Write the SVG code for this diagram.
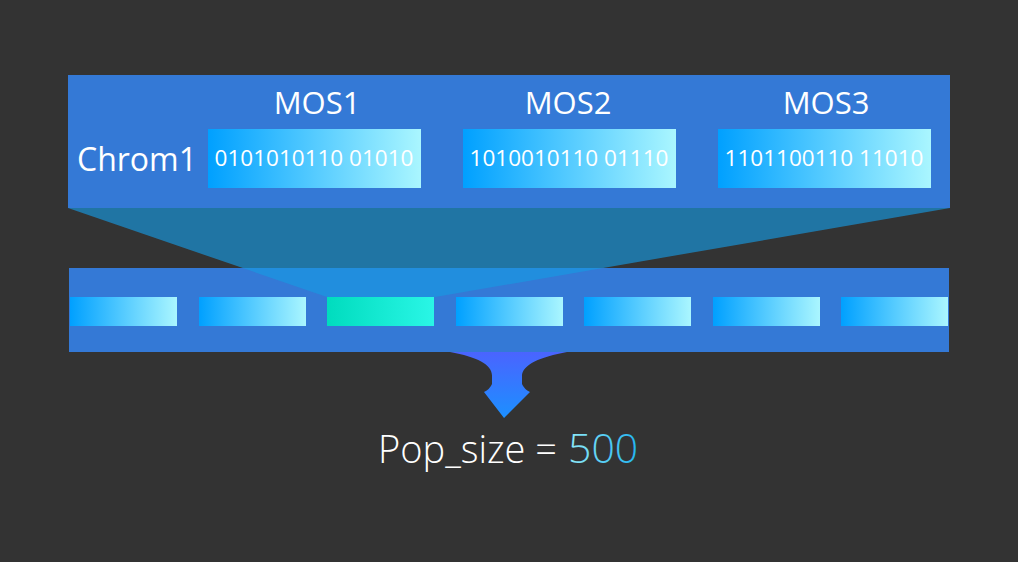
<svg xmlns="http://www.w3.org/2000/svg" width="1018" height="562" viewBox="0 0 1018 562">
<style>
.panel{fill:#3479d6}
.lbl{font-family:"Open Sans","Noto Sans","Liberation Sans",sans-serif;fill:#ffffff}
.bits{font-family:"Open Sans","Noto Sans","Liberation Sans",sans-serif;fill:#ffffff;font-size:22.5px}
.box{fill:url(#gBlue)}
</style>
<defs>
<linearGradient id="gBlue" x1="0" y1="0" x2="1" y2="0">
<stop offset="0" stop-color="#00a0ff"/>
<stop offset="1" stop-color="#aaf6ff"/>
</linearGradient>
<linearGradient id="gGreen" x1="0" y1="0" x2="1" y2="0">
<stop offset="0" stop-color="#00dcbe"/>
<stop offset="1" stop-color="#2af6e6"/>
</linearGradient>
<linearGradient id="gArrow" x1="0" y1="0" x2="0" y2="1">
<stop offset="0" stop-color="#4a64ff"/>
<stop offset="1" stop-color="#1c90ff"/>
</linearGradient>
<linearGradient id="gNum" x1="0" y1="0" x2="1" y2="0">
<stop offset="0" stop-color="#90eaf8"/>
<stop offset="1" stop-color="#22b4f0"/>
</linearGradient>
</defs>
<rect width="1018" height="562" fill="#333333"/>
<g id="population">
<rect class="panel" x="69" y="268" width="880" height="84"/>
</g>
<g id="connectors">
<polygon points="68,208 950,208 435,297 327,297" fill="#179ae2" fill-opacity="0.65"/>
<path d="M450,352 L567,352 C540,357 521,365 522,377 L522,384 Q524,389 530,392 L504,418 L484,392 Q490,389 492,384 L492,377 C493,365 478,357 450,352 Z" fill="url(#gArrow)"/>
</g>
<g id="chromosomes">
<rect class="box" x="70" y="297" width="107" height="29"/>
<rect class="box" x="199" y="297" width="107" height="29"/>
<rect x="327" y="297" width="107" height="29" fill="url(#gGreen)"/>
<rect class="box" x="456" y="297" width="107" height="29"/>
<rect class="box" x="584" y="297" width="107" height="29"/>
<rect class="box" x="713" y="297" width="107" height="29"/>
<rect class="box" x="841" y="297" width="107" height="29"/>
</g>
<g id="chrom1">
<rect class="panel" x="68" y="75" width="882" height="133"/>
<text class="lbl" x="77" y="171" font-size="32">Chrom1</text>
</g>
<g id="mos1">
<text class="lbl" x="317" y="114" font-size="31" text-anchor="middle">MOS1</text>
<rect class="box" x="208" y="129" width="213" height="59"/>
<text class="bits" x="314" y="166" text-anchor="middle">0101010110 01010</text>
</g>
<g id="mos2">
<text class="lbl" x="568" y="114" font-size="31" text-anchor="middle">MOS2</text>
<rect class="box" x="463" y="129" width="213" height="59"/>
<text class="bits" x="569" y="166" text-anchor="middle">1010010110 01110</text>
</g>
<g id="mos3">
<text class="lbl" x="826" y="114" font-size="31" text-anchor="middle">MOS3</text>
<rect class="box" x="718" y="129" width="213" height="59"/>
<text class="bits" x="824" y="166" text-anchor="middle">1101100110 11010</text>
</g>
<g id="popsize">
<text class="lbl" x="378" y="463" font-size="38" font-weight="300">Pop_size =</text>
<text x="568" y="463" font-size="41" font-weight="300" font-family="'Open Sans','Noto Sans','Liberation Sans',sans-serif" fill="url(#gNum)">500</text>
</g>
</svg>
